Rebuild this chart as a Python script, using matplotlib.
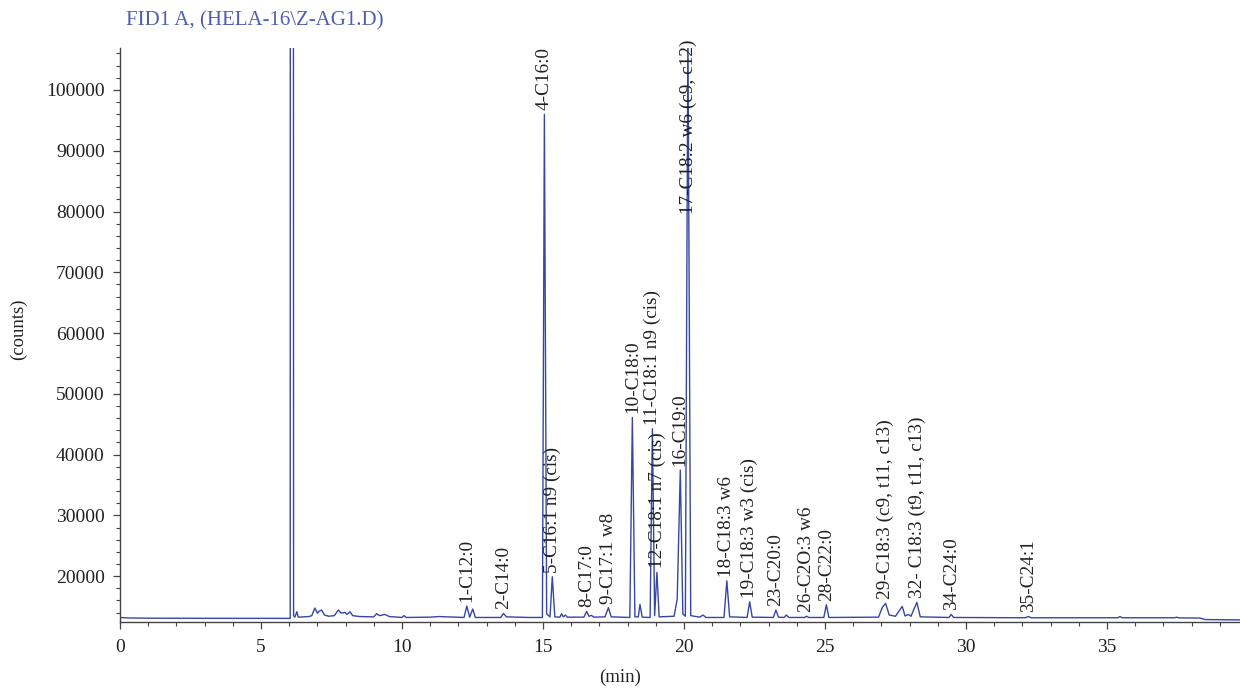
import numpy as np
import matplotlib
matplotlib.use('Agg')
import matplotlib.pyplot as plt
from matplotlib.ticker import MultipleLocator

# FID trace (time in min, counts)
trace_t = [0.00, 0.30, 1.00, 3.00, 6.00, 6.035, 6.045, 6.14, 6.155, 6.20,
           6.27, 6.32, 6.50, 6.70, 6.80, 6.91, 7.00, 7.05, 7.15, 7.25,
           7.40, 7.60, 7.74, 7.85, 7.98, 8.05, 8.16, 8.25, 8.50, 9.00,
           9.10, 9.20, 9.40, 9.55, 10.00, 10.07, 10.15, 11.00, 11.30, 11.60,
           12.20, 12.30, 12.40, 12.51, 12.60, 13.50, 13.60, 13.70, 14.50, 14.98,
           15.05, 15.13, 15.25, 15.33, 15.42, 15.60, 15.66, 15.72, 15.80, 15.86,
           16.45, 16.55, 16.63, 16.72, 16.80, 17.20, 17.32, 17.42, 18.08, 18.17,
           18.26, 18.38, 18.44, 18.52, 18.80, 18.88, 18.96, 19.04, 19.12, 19.65,
           19.76, 19.87, 19.96, 20.05, 20.14, 20.24, 20.55, 20.68, 20.78, 21.42,
           21.52, 21.62, 22.24, 22.33, 22.42, 23.17, 23.26, 23.35, 23.55, 23.63,
           23.72, 24.28, 24.35, 24.42, 24.96, 25.05, 25.14, 26.90, 27.04, 27.15,
           27.28, 27.50, 27.74, 27.84, 27.96, 28.05, 28.26, 28.38, 29.40, 29.48,
           29.56, 32.10, 32.21, 32.32, 35.38, 35.46, 35.55, 37.40, 37.47, 37.55,
           38.30, 38.50, 39.72]
trace_y = [13200, 13120, 13080, 13060, 13050, 13050, 300000, 300000, 13500, 13250,
           14150, 13250, 13300, 13350, 13500, 14750, 13900, 14200, 14420, 13600,
           13400, 13500, 14420, 13900, 14040, 13700, 14140, 13500, 13350, 13300,
           13820, 13500, 13700, 13350, 13200, 13500, 13200, 13250, 13350, 13300,
           13200, 15080, 13250, 14590, 13200, 13200, 13870, 13300, 13200, 13200,
           96000, 13800, 13300, 19890, 13300, 13250, 13820, 13300, 13600, 13250,
           13250, 14200, 13400, 13540, 13250, 13300, 14810, 13300, 13200, 46100,
           13300, 13300, 15350, 13250, 13200, 44250, 13500, 20600, 13300, 13400,
           16230, 37450, 13800, 13400, 110000, 13500, 13250, 13600, 13200, 13200,
           19230, 13300, 13200, 15780, 13250, 13200, 14420, 13250, 13200, 13600,
           13200, 13200, 13400, 13200, 13200, 15290, 13200, 13250, 14900, 15520,
           13600, 13400, 15020, 13450, 13700, 13400, 15680, 13300, 13200, 13710,
           13200, 13150, 13350, 13150, 13150, 13350, 13150, 13150, 13250, 13130,
           13100, 12850, 12800]

# peak names and retention times
peak_names = ['1-C12:0', '2-C14:0', '4-C16:0', '5-C16:1 n9 (cis)', '8-C17:0',
              '9-C17:1 w8', '10-C18:0', '11-C18:1 n9 (cis)', '12-C18:1 n7 (cis)',
              '16-C19:0', '17-C18:2 w6 (c9, c12)', '18-C18:3 w6',
              '19-C18:3 w3 (cis)', '23-C20:0', '26-C2O:3 w6', '28-C22:0',
              '29-C18:3 (c9, t11, c13)', '32- C18:3 (t9, t11, c13)', '34-C24:0',
              '35-C24:1']
peak_times = [12.30, 13.60, 15.05, 15.33, 16.55, 17.32, 18.17, 18.88, 19.04,
              19.87, 20.14, 21.52, 22.33, 23.26, 24.35, 25.05, 27.15, 28.26,
              29.48, 32.21]

x_ticks = [0, 5, 10, 15, 20, 25, 30, 35]
y_ticks = [20000, 30000, 40000, 50000, 60000, 70000, 80000, 90000, 100000]

plt.rcParams['font.family'] = ['Liberation Serif', 'DejaVu Serif']

fig = plt.figure(figsize=(12.4, 6.88), dpi=100)
ax = fig.add_axes([0.0968, 0.0959, 0.9032, 0.8343])

ax.plot(trace_t, trace_y, color='#3546a5', lw=1.0)

ax.set_xlim(0, 39.72)
ax.set_ylim(12450, 106900)
top = 106900

# labels sit on top of each peak, rotated
t_arr = np.array(trace_t)
y_arr = np.array(trace_y)
for name, t in zip(peak_names, peak_times):
    h = y_arr[np.argmin(np.abs(t_arr - t))]
    if h > top:
        ax.annotate(name, (t, top), xytext=(0, 6), textcoords='offset points',
                    rotation=90, ha='center', va='top', fontsize=13.9,
                    color='#222222', annotation_clip=False)
    else:
        ax.annotate(name, (t, h), xytext=(0, 3), textcoords='offset points',
                    rotation=90, ha='center', va='bottom', fontsize=13.9,
                    color='#222222')

ax.set_xticks(x_ticks)
ax.set_yticks(y_ticks)
ax.xaxis.set_minor_locator(MultipleLocator(1))
ax.yaxis.set_minor_locator(MultipleLocator(2000))
ax.tick_params(which='major', direction='out', length=5, width=0.9,
               color='#444444', labelsize=14, labelcolor='#222222')
ax.tick_params(axis='x', which='major', pad=7.5)
ax.tick_params(axis='y', which='major', pad=6)
ax.tick_params(which='minor', direction='out', length=2.6, width=0.8, color='#444444')

for s in ['top', 'right']:
    ax.spines[s].set_visible(False)
for s in ['left', 'bottom']:
    ax.spines[s].set_color('#444444')
    ax.spines[s].set_linewidth(1.0)

ax.set_xlabel('(min)', fontsize=13.5, color='#222222', va='center')
ax.xaxis.set_label_coords(0.4464, -0.0958)
ax.set_ylabel('(counts)', fontsize=13.5, color='#222222', va='center')
ax.yaxis.set_label_coords(-0.091, 0.51)

fig.text(0.1016, 1 - 21 / 688, 'FID1 A, (HELA-16\\Z-AG1.D)', color='#4f5fb0',
         fontsize=15, va='center', ha='left')

fig.savefig('out.png', dpi=100)
